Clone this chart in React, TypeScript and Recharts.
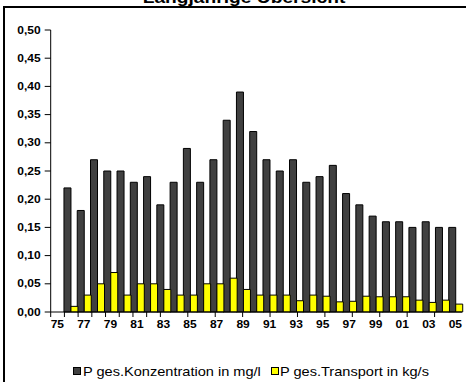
import { BarChart, Bar, XAxis, YAxis, Legend } from 'recharts';

const years = ['75', '76', '77', '78', '79', '80', '81', '82', '83', '84', '85', '86', '87', '88', '89', '90',
  '91', '92', '93', '94', '95', '96', '97', '98', '99', '00', '01', '02', '03', '04', '05'];

// P gesamt Konzentration in mg/l (1975 ohne Wert)
const konzentration = [null, 0.22, 0.18, 0.27, 0.25, 0.25, 0.23, 0.24, 0.19, 0.23, 0.29, 0.23, 0.27, 0.34, 0.39,
  0.32, 0.27, 0.25, 0.27, 0.23, 0.24, 0.26, 0.21, 0.19, 0.17, 0.16, 0.16, 0.15, 0.16, 0.15, 0.15];

// P gesamt Transport in kg/s
const transport = [null, 0.01, 0.03, 0.05, 0.07, 0.03, 0.05, 0.05, 0.04, 0.03, 0.03, 0.05, 0.05, 0.06, 0.04,
  0.03, 0.03, 0.03, 0.02, 0.03, 0.028, 0.018, 0.019, 0.028, 0.027, 0.027, 0.027, 0.021, 0.017, 0.021, 0.014];

const yTicks = [0, 0.05, 0.1, 0.15, 0.2, 0.25, 0.3, 0.35, 0.4, 0.45, 0.5];

const data = years.map((year, i) => ({ year, konzentration: konzentration[i], transport: transport[i] }));

// Teilstriche an den Kategoriegrenzen
const edgeTicks = years.map((_, i) => i).concat(years.length);

const font = '"Liberation Sans", Arial, sans-serif';

function YTick({ x, y, payload }: any) {
  return (
    <g transform={`translate(${x},${y}) scale(1.2,1)`}>
      <text x={0} y={0} dy="0.36em" textAnchor="end" fontSize={10} fontWeight="bold" fill="#000" fontFamily={font}>
        {Number(payload.value).toFixed(2).replace('.', ',')}
      </text>
    </g>
  );
}

function XTick({ x, y, payload }: any) {
  return (
    <g transform={`translate(${x},${y}) scale(1.2,1)`}>
      <text x={0} y={15} textAnchor="middle" fontSize={10} fontWeight="bold" fill="#000" fontFamily={font}>
        {payload.value}
      </text>
    </g>
  );
}

const legendX = [73, 270.5];

function LegendContent({ payload }: any) {
  return (
    <div style={{ position: 'relative', height: 20, fontFamily: font, fontSize: 13, color: '#000' }}>
      {(payload || []).map((entry: any, i: number) => (
        <div key={entry.value}>
          <span
            style={{
              position: 'absolute', left: legendX[i], top: 5, width: 8, height: 8,
              boxSizing: 'border-box', border: '1px solid #000', background: entry.color,
            }}
          />
          <span
            style={{
              position: 'absolute', left: legendX[i] + 9.5, top: 0, lineHeight: '20px', whiteSpace: 'nowrap',
              transform: 'scaleX(1.12)', transformOrigin: 'left center',
            }}
          >
            {entry.value}
          </span>
        </div>
      ))}
    </div>
  );
}

export default function App() {
  return (
    <div style={{ position: 'absolute', left: 0, top: 0, width: 466, height: 382, background: '#fff', overflow: 'hidden' }}>
      <div
        style={{
          position: 'absolute', left: 244, top: -10.5, fontFamily: font, fontSize: 16, fontWeight: 'bold',
          lineHeight: '16px', whiteSpace: 'nowrap', transform: 'translateX(-50%) scaleX(1.2)',
        }}
      >
        Langjährige Übersicht
      </div>
      <div
        style={{
          position: 'absolute', left: 3, top: 6, width: 480, height: 400,
          borderLeft: '2px solid #000', borderTop: '2px solid #000',
        }}
      />
      <div style={{ position: 'absolute', left: 0, top: 0 }}>
        <BarChart
          width={466}
          height={382}
          data={data}
          margin={{ top: 30, right: 4, left: 0, bottom: 0 }}
          barCategoryGap={0}
          barGap={0}
        >
          <XAxis
            xAxisId="a"
            type="number"
            domain={[0, years.length]}
            ticks={edgeTicks}
            allowDataOverflow
            tick={<g />}
            tickSize={5}
            height={1}
            axisLine={{ stroke: '#000' }}
            tickLine={{ stroke: '#000' }}
          />
          <XAxis
            xAxisId="b"
            dataKey="year"
            interval={1}
            axisLine={false}
            tickLine={false}
            tickSize={0}
            tickMargin={0}
            height={49}
            tick={<XTick />}
          />
          <YAxis
            domain={[0, 0.5]}
            ticks={yTicks}
            width={50.7}
            tickSize={6}
            tickMargin={4}
            axisLine={{ stroke: '#000' }}
            tickLine={{ stroke: '#000' }}
            tick={<YTick />}
          />
          <Legend
            verticalAlign="bottom"
            wrapperStyle={{ left: 0, bottom: 0, width: 466, height: 20 }}
            content={<LegendContent />}
          />
          <Bar
            xAxisId="b"
            dataKey="konzentration"
            name="P ges.Konzentration in mg/l"
            fill="#404040"
            stroke="#000"
            strokeWidth={1}
            isAnimationActive={false}
          />
          <Bar
            xAxisId="b"
            dataKey="transport"
            name="P ges.Transport in kg/s"
            fill="#ffff00"
            stroke="#000"
            strokeWidth={1}
            isAnimationActive={false}
          />
        </BarChart>
      </div>
    </div>
  );
}
